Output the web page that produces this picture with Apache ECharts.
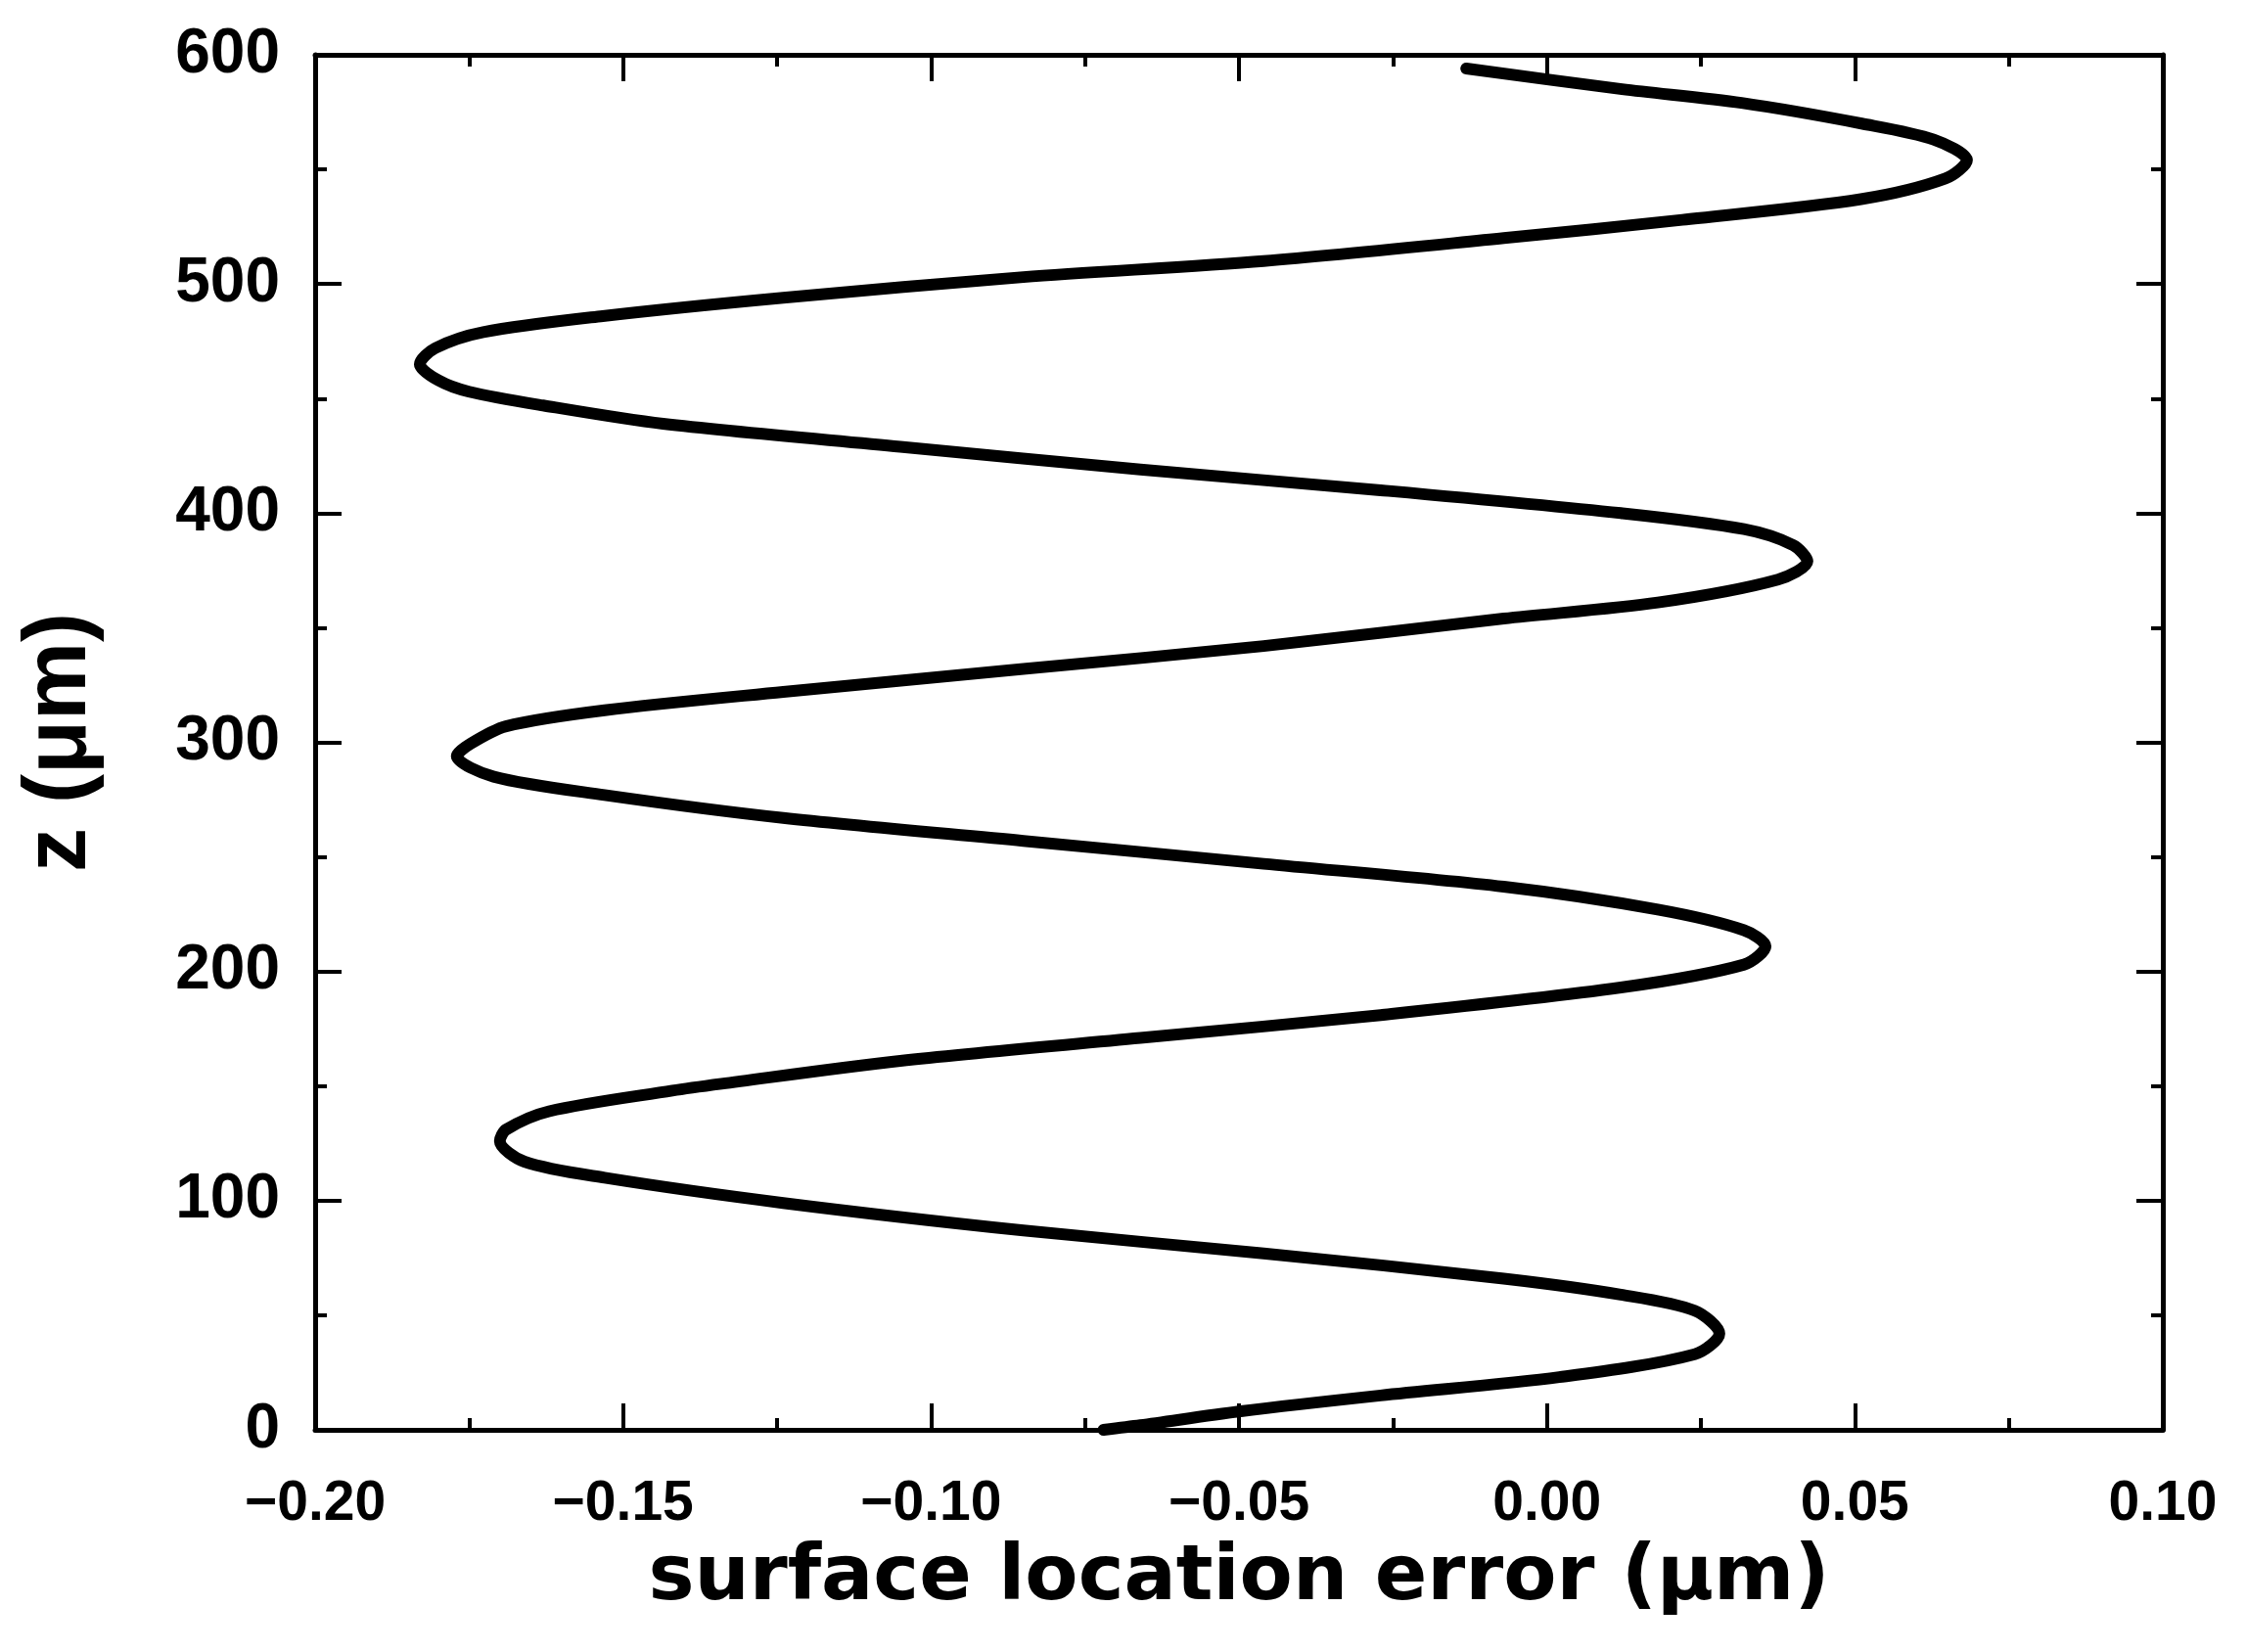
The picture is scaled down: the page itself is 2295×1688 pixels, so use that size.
<!DOCTYPE html>
<html>
<head>
<meta charset="utf-8">
<script src="https://cdn.jsdelivr.net/npm/echarts@6/dist/echarts.min.js"></script>
<style>
  html, body { margin: 0; padding: 0; background: #fff; }
  #chart { width: 2295px; height: 1688px; }
</style>
</head>
<body>
<div id="chart"></div>
<script>
// z position (μm), bottom to top
const zValues = [
  0, 2, 8, 15, 23, 33, 42, 52, 59, 66, 77, 87, 99, 110, 117, 126, 131, 139, 148, 151,
  161, 171, 181, 193, 203, 211, 218, 227, 237, 247, 257, 267, 277, 285, 294, 299, 307, 314, 322, 332,
  342, 354, 361, 371, 379, 386, 393, 400, 410, 419, 429, 439, 447, 453, 458, 465, 472, 479, 486, 494,
  503, 510, 520, 528, 537, 546, 554, 563, 570, 579, 585, 594
]
// surface location error (μm) at each z
const errValues = [
  -0.072, -0.066, -0.050, -0.027, 0.002, 0.024, 0.028, 0.024, 0.012, -0.007, -0.046, -0.085, -0.124, -0.153, -0.166, -0.170, -0.169, -0.162, -0.142, -0.134,
  -0.105, -0.066, -0.027, 0.012, 0.032, 0.0355, 0.032, 0.018, -0.007, -0.046, -0.085, -0.124, -0.153, -0.171, -0.177, -0.175, -0.169, -0.153, -0.124, -0.085,
  -0.046, -0.007, 0.018, 0.0375, 0.0423, 0.040, 0.032, 0.012, -0.027, -0.066, -0.105, -0.1435, -0.163, -0.175, -0.180, -0.183, -0.1805, -0.1727, -0.1533, -0.124,
  -0.085, -0.046, -0.007, 0.022, 0.051, 0.0647, 0.0682, 0.0628, 0.0511, 0.0316, 0.0122, -0.0131
]

const xTicks = { min: -0.2, max: 0.1, interval: 0.05 }
const yTicks = { min: 0, max: 600, interval: 100 }

const fmtX = v => (v < 0 ? '\u2212' : '') + Math.abs(v).toFixed(2)

const axisLine = { show: true, onZero: false, lineStyle: { color: '#000', width: 5 } }
const axisTick = { show: true, inside: true, length: 27, lineStyle: { color: '#000', width: 4 } }
const minorTick = { show: true, splitNumber: 2, length: 12, lineStyle: { color: '#000', width: 4 } }

const chart = echarts.init(document.getElementById('chart'))
chart.setOption({
  backgroundColor: '#fff',
  animation: false,
  grid: { left: 322, right: 85, top: 56, bottom: 227 },
  xAxis: [{
    type: 'value', position: 'bottom', ...xTicks,
    axisLine, axisTick, minorTick,
    splitLine: { show: false },
    axisLabel: { margin: 48, formatter: fmtX, color: '#000', fontSize: 57, fontWeight: 'bold', fontFamily: 'Liberation Sans, Arial, sans-serif' },
    name: 'surface location error (μm)', nameLocation: 'middle', nameGap: 113,
    nameTextStyle: { color: '#000', fontSize: 79, fontWeight: 'bold', fontFamily: 'DejaVu Sans, sans-serif' }
  }, {
    type: 'value', position: 'top', ...xTicks,
    axisLine, axisTick, minorTick,
    splitLine: { show: false }, axisLabel: { show: false }
  }],
  yAxis: [{
    type: 'value', position: 'left', ...yTicks,
    axisLine, axisTick, minorTick,
    splitLine: { show: false },
    axisLabel: { margin: 36, color: '#000', fontSize: 64, fontWeight: 'bold', fontFamily: 'Liberation Sans, Arial, sans-serif' },
    name: 'z (μm)', nameLocation: 'middle', nameGap: 215,
    nameTextStyle: { color: '#000', fontSize: 90, fontWeight: 'bold', fontFamily: 'Liberation Sans, Arial, sans-serif' }
  }, {
    type: 'value', position: 'right', ...yTicks,
    axisLine, axisTick, minorTick,
    splitLine: { show: false }, axisLabel: { show: false }
  }],
  series: [{
    type: 'line',
    data: errValues.map((e, i) => [e, zValues[i]]),
    showSymbol: false,
    smooth: 0.3,
    lineStyle: { color: '#000', width: 12, cap: 'round', join: 'round' }
  }]
})
</script>
</body>
</html>
